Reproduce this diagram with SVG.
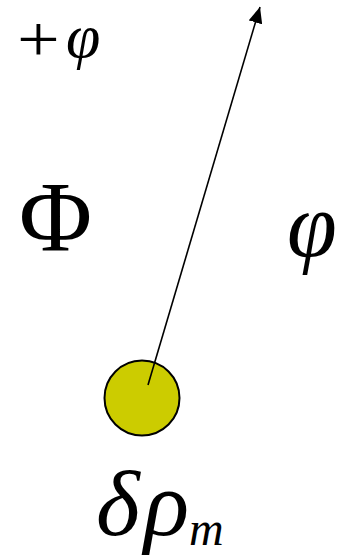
<svg xmlns="http://www.w3.org/2000/svg" width="344" height="556" viewBox="0 0 344 556">
<style>
text{font-family:'Liberation Serif','Times New Roman',serif;fill:#000}
.i{font-style:italic}
</style>
<defs>
<marker id="ah2" viewBox="0 0 16 14" refX="16" refY="7" markerWidth="16" markerHeight="14" markerUnits="userSpaceOnUse" orient="auto">
<path d="M0,0 L16,7 L0,14 z" fill="#000"/>
</marker>
</defs>
<g id="mass">
<circle cx="142" cy="398" r="37.5" fill="#CCCC00" stroke="#000" stroke-width="2"/>
</g>
<g id="connectors">
<line x1="148" y1="385" x2="260" y2="7" stroke="#000" stroke-width="1.6" marker-end="url(#ah2)"/>
</g>
<g id="label-top">
<text x="0" y="0" font-size="66" transform="translate(17,61) scale(1.15,1)">+</text>
<text class="i" x="66" y="57" font-size="62">φ</text>
</g>
<g id="label-Phi">
<text x="19" y="250" font-size="100">Φ</text>
</g>
<g id="label-phi">
<text class="i" x="287" y="256" font-size="90">φ</text>
</g>
<g id="label-drho">
<text class="i" x="96" y="535" font-size="94">δ</text>
<text class="i" x="144" y="535" font-size="94">ρ</text>
<text class="i" x="189" y="545" font-size="48">m</text>
</g>
</svg>
